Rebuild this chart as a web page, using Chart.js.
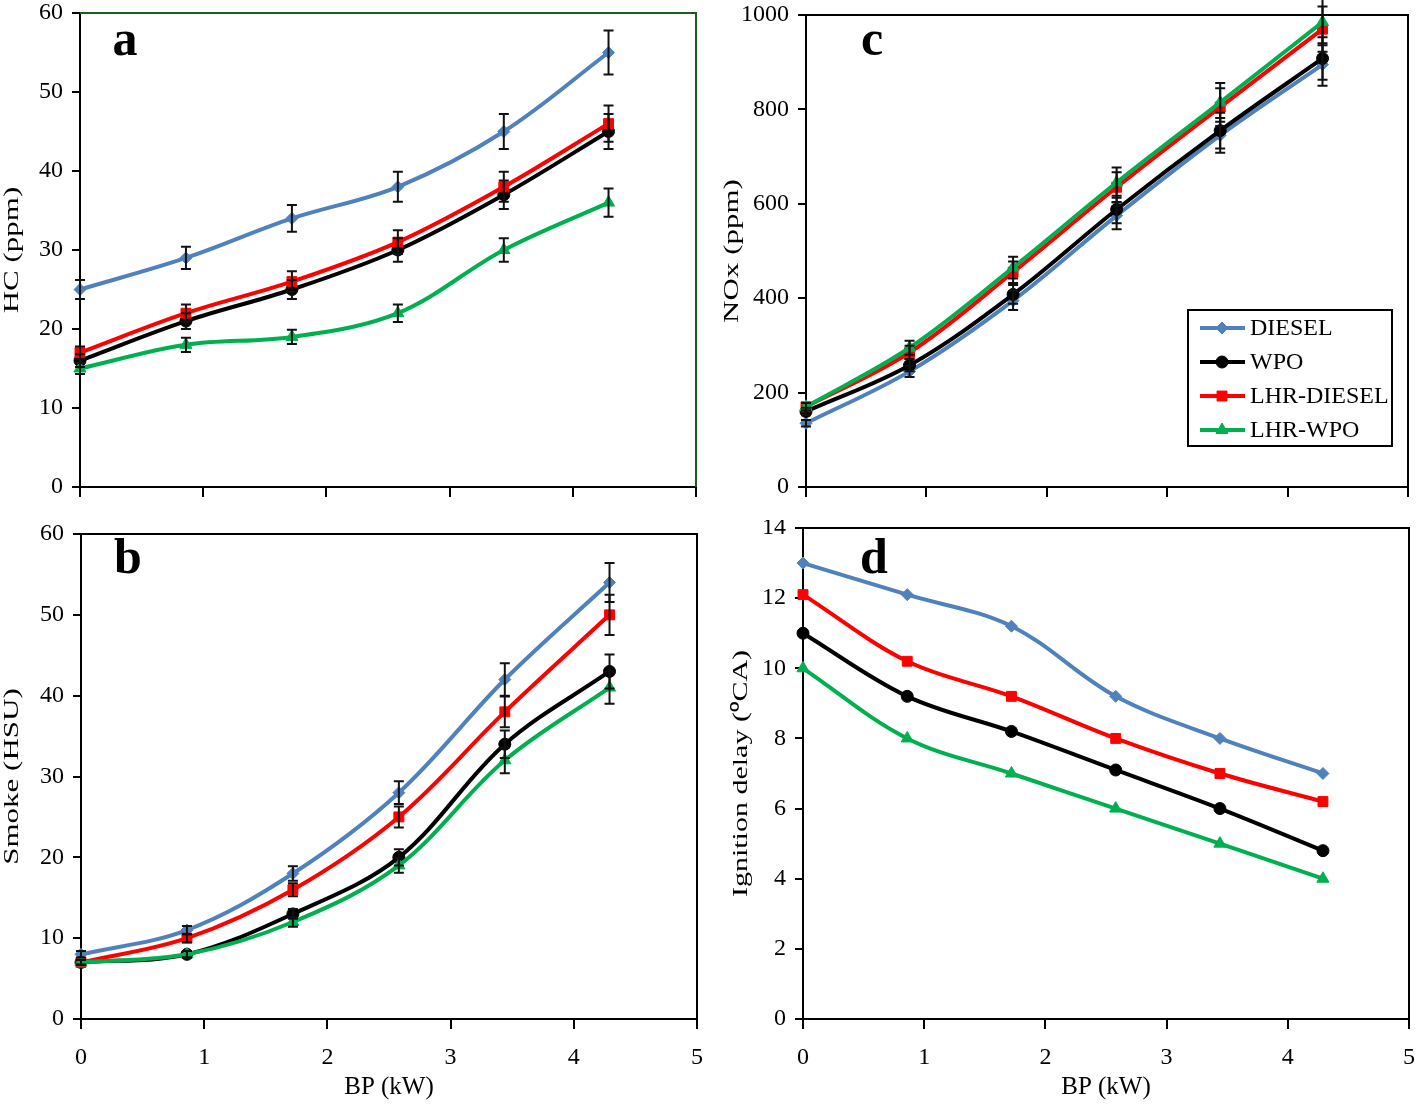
<!DOCTYPE html>
<html>
<head>
<meta charset="utf-8">
<title>Emissions vs BP</title>
<script src="https://cdn.jsdelivr.net/npm/chart.js@4.4.1/dist/chart.umd.min.js"></script>
<style>
  body { margin: 0; background: #fff; }
  #wrap { position: relative; width: 1418px; height: 1107px; overflow: hidden; }
  .panel { position: absolute; }
  canvas { display: block; }
</style>
</head>
<body>
<div id="wrap">
  <div class="panel" style="left:0;top:0"><canvas id="chartA" width="720" height="500"></canvas></div>
  <div class="panel" style="left:720px;top:0"><canvas id="chartC" width="698" height="500"></canvas></div>
  <div class="panel" style="left:0;top:520px"><canvas id="chartB" width="720" height="587"></canvas></div>
  <div class="panel" style="left:720px;top:520px"><canvas id="chartD" width="698" height="587"></canvas></div>
</div>
<script>
// brake power (kW) – same load steps for every panel
const bp = [0, 0.86, 1.72, 2.58, 3.44, 4.29];
const fuels = ['DIESEL', 'WPO', 'LHR-DIESEL', 'LHR-WPO'];

// a: HC (ppm)
const hcDiesel = [25, 29, 34, 38, 45, 55];
const hcWpo = [16, 21, 25, 30, 37, 45];
const hcLhrDiesel = [17, 22, 26, 31, 38, 46];
const hcLhrWpo = [15, 18, 19, 22, 30, 36];
const hcErrDiesel = [1.2, 1.4, 1.7, 1.9, 2.2, 2.8];
const hcErrWpo = [0.8, 1.0, 1.2, 1.5, 1.8, 2.2];
const hcErrLhrDiesel = [0.8, 1.1, 1.3, 1.5, 1.9, 2.3];
const hcErrLhrWpo = [0.7, 0.9, 0.9, 1.1, 1.5, 1.8];

// b: Smoke (HSU)
const smokeDiesel = [8, 11, 18, 28, 42, 54];
const smokeWpo = [7, 8, 13, 20, 34, 43];
const smokeLhrDiesel = [7, 10, 16, 25, 38, 50];
const smokeLhrWpo = [7, 8, 12, 19, 32, 41];
const smokeErrDiesel = [0.4, 0.5, 0.9, 1.4, 2.0, 2.4];
const smokeErrWpo = [0.3, 0.4, 0.6, 1.0, 1.7, 2.1];
const smokeErrLhrDiesel = [0.3, 0.5, 0.8, 1.3, 1.9, 2.5];
const smokeErrLhrWpo = [0.3, 0.4, 0.6, 0.9, 1.6, 2.0];

// c: NOx (ppm)
const noxDiesel = [135, 245, 395, 575, 745, 895];
const noxWpo = [160, 258, 408, 588, 755, 908];
const noxLhrDiesel = [170, 285, 455, 635, 805, 970];
const noxLhrWpo = [170, 295, 465, 645, 815, 985];
const noxErrDiesel = [7, 12, 20, 29, 37, 45];
const noxErrWpo = [8, 13, 20, 29, 38, 45];
const noxErrLhrDiesel = [8, 14, 23, 32, 40, 48];
const noxErrLhrWpo = [8, 15, 23, 32, 41, 49];

// d: ignition delay (deg CA)
const idDiesel = [13, 12.1, 11.2, 9.2, 8.0, 7.0];
const idWpo = [11, 9.2, 8.2, 7.1, 6.0, 4.8];
const idLhrDiesel = [12.1, 10.2, 9.2, 8.0, 7.0, 6.2];
const idLhrWpo = [10, 8, 7, 6, 5, 4];

const colors = ['#4f81bd', '#000000', '#ff0000', '#00b050'];
const markers = ['rectRot', 'circle', 'rect', 'triangle'];
const markerSize = [6, 6, 7, 7];

const serif = '"Liberation Serif", "Times New Roman", serif';

function makeSets(values, errors) {
  return values.map((v, i) => ({
    label: fuels[i],
    data: v.map((y, k) => ({ x: bp[k], y: y })),
    errors: errors ? errors[i] : null,
    borderColor: colors[i],
    backgroundColor: colors[i],
    pointBackgroundColor: colors[i],
    pointBorderColor: colors[i],
    pointStyle: markers[i],
    pointRadius: markerSize[i],
    pointBorderWidth: 1,
    borderWidth: 4,
    tension: 0.35,
    clip: false,
    order: 3 - i
  }));
}

// vertical error bars with caps, drawn through the chart scales
const errorBars = {
  id: 'errorBars',
  afterDatasetsDraw(chart) {
    const ctx = chart.ctx;
    const xs = chart.scales.x, ys = chart.scales.y;
    ctx.save();
    ctx.strokeStyle = '#111';
    ctx.lineWidth = 2;
    chart.data.datasets.forEach(ds => {
      if (!ds.errors) return;
      ds.data.forEach((p, k) => {
        const e = ds.errors[k];
        const px = xs.getPixelForValue(p.x);
        const y1 = ys.getPixelForValue(p.y + e);
        const y2 = ys.getPixelForValue(p.y - e);
        ctx.beginPath();
        ctx.moveTo(px, y1); ctx.lineTo(px, y2);
        ctx.moveTo(px - 5, y1); ctx.lineTo(px + 5, y1);
        ctx.moveTo(px - 5, y2); ctx.lineTo(px + 5, y2);
        ctx.stroke();
      });
    });
    ctx.restore();
  }
};

// frame, panel letter, stretched y title, optional boxed legend
const panelExtras = {
  id: 'panelExtras',
  beforeDatasetsDraw(chart) {
    const o = chart.options.plugins.panelExtras;
    const { ctx, chartArea: a } = chart;
    ctx.save();
    ctx.strokeStyle = o.frameColor;
    ctx.lineWidth = 2;
    ctx.beginPath();
    ctx.moveTo(a.left, a.top);
    ctx.lineTo(a.right, a.top);
    ctx.lineTo(a.right, a.bottom);
    ctx.stroke();
    ctx.restore();
  },
  afterDraw(chart) {
    const o = chart.options.plugins.panelExtras;
    const { ctx, chartArea: a } = chart;
    ctx.save();
    ctx.fillStyle = '#000';
    ctx.font = 'bold 50px ' + serif;
    ctx.textAlign = 'center';
    ctx.textBaseline = 'alphabetic';
    ctx.fillText(o.letter, o.letterX, o.letterY);

    ctx.translate(o.titleX, (a.top + a.bottom) / 2);
    ctx.rotate(-Math.PI / 2);
    ctx.scale(o.titleStretch, 1);
    ctx.font = '20px ' + serif;
    ctx.textBaseline = 'middle';
    ctx.fillText(o.yTitle, 0, 0);
    ctx.restore();

    if (o.legend) {
      const L = o.legend;
      ctx.save();
      ctx.fillStyle = '#fff';
      ctx.fillRect(L.x, L.y, L.w, L.h);
      ctx.strokeStyle = '#000';
      ctx.lineWidth = 2;
      ctx.strokeRect(L.x, L.y, L.w, L.h);
      ctx.font = '24px ' + serif;
      ctx.textBaseline = 'middle';
      ctx.textAlign = 'left';
      chart.data.datasets.forEach((ds, i) => {
        const cy = L.y + 18 + i * 34;
        ctx.strokeStyle = ds.borderColor;
        ctx.lineWidth = 4;
        ctx.beginPath();
        ctx.moveTo(L.x + 12, cy);
        ctx.lineTo(L.x + 57, cy);
        ctx.stroke();
        ctx.fillStyle = ds.borderColor;
        ctx.lineWidth = 1;
        Chart.helpers.drawPoint(ctx, { pointStyle: ds.pointStyle, radius: ds.pointRadius, rotation: 0, borderWidth: 1 }, L.x + 34, cy);
        ctx.fillStyle = '#000';
        ctx.fillText(ds.label, L.x + 62, cy + 1);
      });
      ctx.restore();
    }
  }
};

function makeChart(id, cfg) {
  const showX = cfg.showX;
  return new Chart(document.getElementById(id), {
    type: 'line',
    data: { datasets: makeSets(cfg.values, cfg.errors) },
    plugins: [panelExtras, errorBars],
    options: {
      responsive: false,
      animation: false,
      devicePixelRatio: 1,
      layout: { padding: { top: cfg.top, right: cfg.right, left: 0, bottom: 0 } },
      plugins: {
        legend: { display: false },
        tooltip: { enabled: false },
        panelExtras: cfg.extras
      },
      scales: {
        x: {
          type: 'linear',
          min: 0, max: 5,
          border: { color: '#000', width: 2 },
          grid: { drawOnChartArea: false, drawTicks: true, tickLength: 10, color: '#000', lineWidth: 2 },
          ticks: { display: showX, stepSize: 1, padding: 14, color: '#000', font: { family: serif, size: 24 } },
          title: { display: showX, text: 'BP (kW)', color: '#000', font: { family: serif, size: 25 }, padding: { top: 0, bottom: 5 } },
          afterFit: s => {
            s.height = cfg.xHeight;
            s.paddingLeft = 0; s.paddingRight = 0;
          }
        },
        y: {
          min: 0, max: cfg.yMax,
          border: { color: '#000', width: 2 },
          grid: { drawOnChartArea: false, drawTicks: true, tickLength: 8, color: '#000', lineWidth: 2 },
          ticks: { stepSize: cfg.yStep, padding: 9, color: '#000', font: { family: serif, size: 24 },
            callback: v => String(v) },
          afterFit: s => {
            s.width = cfg.yWidth;
            s.paddingTop = 0; s.paddingBottom = 0;
          }
        }
      }
    }
  });
}

makeChart('chartA', {
  values: [hcDiesel, hcWpo, hcLhrDiesel, hcLhrWpo],
  errors: [hcErrDiesel, hcErrWpo, hcErrLhrDiesel, hcErrLhrWpo],
  yMax: 60, yStep: 10, showX: false,
  top: 13, right: 24, yWidth: 80, xHeight: 13,
  extras: { letter: 'a', letterX: 125, letterY: 55, yTitle: 'HC (ppm)', titleX: 13, titleStretch: 1.55, frameColor: '#1e5b1e' }
});

makeChart('chartB', {
  values: [smokeDiesel, smokeWpo, smokeLhrDiesel, smokeLhrWpo],
  errors: [smokeErrDiesel, smokeErrWpo, smokeErrLhrDiesel, smokeErrLhrWpo],
  yMax: 60, yStep: 10, showX: true,
  top: 14, right: 23, yWidth: 81, xHeight: 88,
  extras: { letter: 'b', letterX: 128, letterY: 53, yTitle: 'Smoke (HSU)', titleX: 13, titleStretch: 1.55, frameColor: '#000' }
});

makeChart('chartC', {
  values: [noxDiesel, noxWpo, noxLhrDiesel, noxLhrWpo],
  errors: [noxErrDiesel, noxErrWpo, noxErrLhrDiesel, noxErrLhrWpo],
  yMax: 1000, yStep: 200, showX: false,
  top: 15, right: 10, yWidth: 86, xHeight: 13,
  extras: { letter: 'c', letterX: 152, letterY: 55, yTitle: 'NOx (ppm)', titleX: 13, titleStretch: 1.55, frameColor: '#000',
    legend: { x: 468, y: 310, w: 204, h: 136 } }
});

makeChart('chartD', {
  values: [idDiesel, idWpo, idLhrDiesel, idLhrWpo],
  errors: null,
  yMax: 14, yStep: 2, showX: true,
  top: 8, right: 9, yWidth: 83, xHeight: 88,
  extras: { letter: 'd', letterX: 154, letterY: 53, yTitle: 'Ignition delay (\u2070CA)', titleX: 22, titleStretch: 1.5, frameColor: '#000' }
});
</script>
</body>
</html>
